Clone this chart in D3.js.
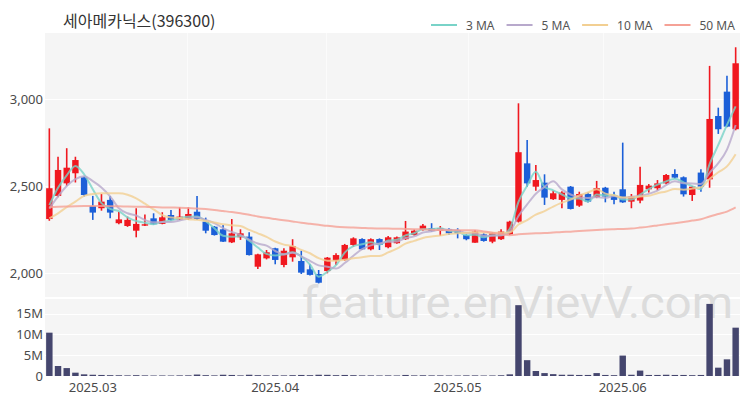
<!DOCTYPE html>
<html><head><meta charset="utf-8">
<script src="https://cdn.jsdelivr.net/npm/d3@7"></script>
<style>body{margin:0;background:#fff}svg{display:block}</style>
</head><body>
<svg id="c" width="750" height="400"></svg>
<script>
const title = "세아메카닉스(396300)";
const opens  = [2310,2443,2515,2573,2550,2385,2372,2420,2286,2270,2243,2272,2314,2282,2333,2308,2310,2352,2295,2266,2251,2176,2205,2209,2036,2084,2142,2046,2090,2069,2021,1994,2011,2071,2075,2161,2195,2136,2195,2148,2171,2194,2218,2247,2257,2243,2253,2247,2218,2174,2222,2180,2194,2222,2295,2630,2496,2519,2424,2420,2496,2387,2454,2435,2490,2448,2481,2410,2416,2481,2487,2515,2569,2550,2448,2577,2538,2902,3042,2826];
const highs  = [2831,2668,2717,2668,2555,2443,2454,2443,2352,2324,2372,2336,2343,2349,2362,2377,2377,2443,2318,2270,2276,2310,2251,2234,2110,2132,2145,2142,2194,2128,2050,2017,2092,2113,2167,2205,2199,2199,2199,2213,2210,2299,2250,2282,2286,2270,2257,2257,2222,2245,2228,2235,2251,2300,2975,2764,2621,2567,2473,2470,2500,2467,2462,2529,2495,2467,2749,2454,2611,2511,2534,2569,2596,2555,2500,2596,3190,2950,3134,3297];
const lows   = [2300,2435,2500,2520,2440,2305,2358,2314,2280,2265,2205,2270,2278,2280,2300,2305,2305,2305,2228,2215,2178,2172,2190,2100,2023,2078,2050,2033,2065,1994,1985,1940,1998,2046,2070,2151,2132,2130,2132,2142,2168,2190,2215,2243,2238,2213,2218,2199,2188,2174,2180,2171,2190,2218,2290,2496,2473,2391,2420,2372,2365,2380,2405,2430,2406,2395,2403,2372,2400,2462,2475,2510,2542,2439,2414,2467,2490,2799,2838,2820];
const closes = [2487,2592,2605,2649,2448,2347,2410,2347,2308,2305,2282,2280,2280,2320,2305,2324,2339,2310,2243,2218,2180,2228,2228,2103,2107,2119,2075,2128,2155,2002,1989,1944,2088,2103,2161,2199,2136,2194,2161,2205,2205,2238,2243,2272,2241,2257,2228,2228,2194,2238,2184,2228,2238,2295,2694,2515,2534,2433,2458,2462,2368,2454,2410,2487,2439,2420,2406,2439,2506,2502,2515,2563,2548,2452,2496,2496,2885,2826,2841,3205];
const volumes = [10400000,2400000,1900000,800000,400000,300000,250000,200000,180000,150000,200000,150000,120000,130000,120000,150000,160000,350000,200000,150000,300000,250000,150000,300000,200000,150000,180000,150000,200000,250000,200000,300000,280000,200000,250000,200000,150000,150000,130000,150000,130000,250000,150000,180000,150000,150000,130000,120000,150000,150000,120000,130000,180000,400000,17000000,3800000,1200000,700000,450000,300000,300000,250000,250000,700000,250000,200000,4900000,300000,1300000,250000,250000,300000,250000,250000,200000,250000,17300000,2000000,4000000,11600000];

// moving-average values before each window fills (earlier history not shown)
const ma3Head  = [2390,2490];
const ma5Head  = [2370,2440,2500,2540];
const ma10Head = [2314,2343,2378,2410,2443,2454,2458,2458,2458];
const ma50Head = [2378,2380,2382,2384,2385,2385,2385,2384,2383,2382,2381,2380,2379,2377,2376,2375,2373,2371,2367,2362,2356,2350,2343,2334,2325,2317,2310,2303,2296,2289,2283,2277,2271,2266,2263,2261,2259,2257,2256,2255,2254,2253,2252,2250,2248,2247,2246,2245,2245];

const maPeriods = [3,5,10,50];
const maLabels  = ["3 MA","5 MA","10 MA","50 MA"];
const maHeads   = [ma3Head, ma5Head, ma10Head, ma50Head];

const monthTickIdx = [5,26,47,66];
const monthLabels  = ["2025.03","2025.04","2025.05","2025.06"];
const vGridIdx     = [15.8,31.9,48.2,63.7];
const priceTicks   = [2000,2500,3000];
const volTicks     = [0,5000000,10000000,15000000];
const watermark    = "feature.enVievV.com";

// ---------- styles
const maColors = ["#79d3c8","#b8a9cc","#f2cf92","#f5a196"];
const UP = "#f0181f", DOWN = "#1b5fd8", VOLC = "#45466e";
const BG = "#f5f5f5";
const axisFont = "'Noto Sans', sans-serif";

const svg = d3.select("#c");
const L = 45, R = 740;
const mainTop = 33, mainBot = 297, volTop = 299, volBot = 376;
const n = closes.length;

const x = d3.scaleBand().domain(d3.range(n)).range([L, R]).paddingInner(0.26).paddingOuter(0.13);
const xc = i => x(i) + x.bandwidth() / 2;
const xl = d3.scaleLinear().domain([0, n - 1]).range([xc(0), xc(n - 1)]);
const y = d3.scaleLinear().domain([1862, 3379]).range([mainBot, mainTop]);
const yv = d3.scaleLinear().domain([0, 18480000]).range([volBot, volTop]);

// panels
svg.append("rect").attr("x", L).attr("y", mainTop).attr("width", R - L).attr("height", mainBot - mainTop).attr("fill", BG);
svg.append("rect").attr("x", L).attr("y", volTop).attr("width", R - L).attr("height", volBot - volTop).attr("fill", BG);

// gridlines
const grid = svg.append("g").attr("stroke", "#ffffff").attr("stroke-width", 1);
grid.selectAll(".hg").data(priceTicks).join("line")
  .attr("x1", L).attr("x2", R).attr("y1", d => Math.round(y(d)) + 0.5).attr("y2", d => Math.round(y(d)) + 0.5);
grid.selectAll(".vg").data(volTicks.slice(1)).join("line")
  .attr("x1", L).attr("x2", R).attr("y1", d => Math.round(yv(d)) + 0.5).attr("y2", d => Math.round(yv(d)) + 0.5);
grid.selectAll(".xg").data(vGridIdx).join("line")
  .attr("x1", d => Math.round(xl(d)) + 0.5).attr("x2", d => Math.round(xl(d)) + 0.5)
  .attr("y1", mainTop).attr("y2", mainBot).attr("stroke-opacity", 0.6);

// watermark
svg.append("text").attr("x", 302).attr("y", 318).attr("font-family", "Roboto, 'Noto Sans', sans-serif")
  .attr("font-size", 45).attr("fill", "#dcdcdc").attr("textLength", 431).attr("lengthAdjust", "spacingAndGlyphs")
  .text(watermark);

// axes
const yAxis = svg.append("g").attr("transform", `translate(${L},0)`)
  .call(d3.axisLeft(y).tickValues(priceTicks).tickFormat(d3.format(",")).tickSize(0).tickPadding(2));
const vAxis = svg.append("g").attr("transform", `translate(${L},0)`)
  .call(d3.axisLeft(yv).tickValues(volTicks).tickFormat(d => d === 0 ? "0" : (d / 1e6) + "M").tickSize(0).tickPadding(2));
const xAxis = svg.append("g").attr("transform", `translate(0,${volBot})`)
  .call(d3.axisBottom(x).tickValues(monthTickIdx).tickFormat((d, i) => monthLabels[i]).tickSize(0).tickPadding(7));
[yAxis, vAxis, xAxis].forEach(g => {
  g.select(".domain").remove();
  g.selectAll("text").attr("font-family", axisFont).attr("font-size", 13).attr("fill", "#4a4a4a");
});

// volume bars
svg.append("g").selectAll("rect").data(volumes).join("rect")
  .attr("x", (d, i) => x(i)).attr("width", x.bandwidth())
  .attr("y", d => yv(d)).attr("height", d => volBot - yv(d))
  .attr("fill", VOLC);

// candles
const cg = svg.append("g");
const idx = d3.range(n);
cg.selectAll(".wick").data(idx).join("line")
  .attr("x1", xc).attr("x2", xc)
  .attr("y1", i => y(highs[i])).attr("y2", i => y(lows[i]))
  .attr("stroke", i => closes[i] >= opens[i] ? UP : DOWN).attr("stroke-width", 1.6);
cg.selectAll(".body").data(idx).join("rect")
  .attr("x", i => x(i)).attr("width", x.bandwidth())
  .attr("y", i => y(Math.max(opens[i], closes[i])))
  .attr("height", i => Math.max(1.2, Math.abs(y(opens[i]) - y(closes[i]))))
  .attr("fill", i => closes[i] >= opens[i] ? UP : DOWN);

// moving averages
function movingAverage(p, head) {
  return closes.map((c, i) => i < p - 1 ? head[i] : d3.mean(closes.slice(i - p + 1, i + 1)));
}
const line = d3.line().x((d, i) => xc(i)).y(d => y(d)).curve(d3.curveMonotoneX);
const mg = svg.append("g");
maPeriods.forEach((p, k) => {
  mg.append("path").datum(movingAverage(p, maHeads[k]))
    .attr("d", line).attr("fill", "none").attr("stroke", maColors[k])
    .attr("stroke-width", 2).attr("stroke-opacity", 0.8);
});

// title
svg.append("text").attr("x", 63).attr("y", 27).attr("font-family", "'Noto Sans CJK KR', sans-serif")
  .attr("font-size", 16).attr("fill", "#333").text(title);

// legend
const lg = svg.append("g").attr("font-family", axisFont).attr("font-size", 12).attr("fill", "#555");
let lx = 431;
maLabels.forEach((lab, k) => {
  lg.append("line").attr("x1", lx).attr("x2", lx + 26).attr("y1", 25).attr("y2", 25)
    .attr("stroke", maColors[k]).attr("stroke-width", 2);
  const t = lg.append("text").attr("x", lx + 9 + 26).attr("y", 29.5).text(lab);
  lx = lx + 35 + t.node().getComputedTextLength() + 12;
});
</script>
</body></html>
